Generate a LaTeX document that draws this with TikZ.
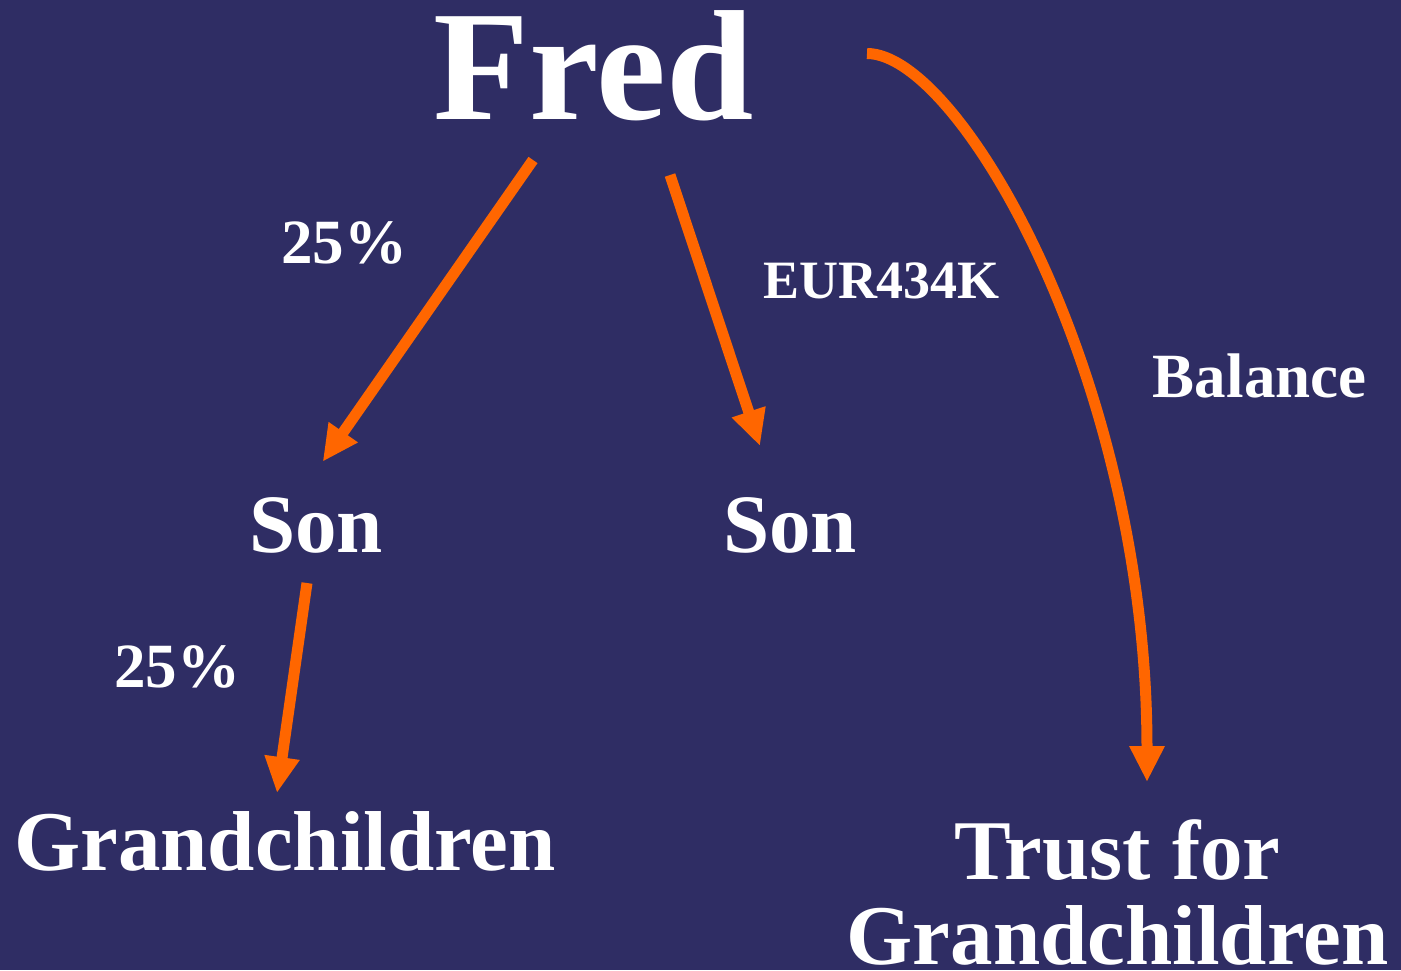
\documentclass[tikz,border=0pt]{standalone}
\usepackage{fontspec}
\setmainfont{Liberation Serif}
\usetikzlibrary{arrows.meta}
\definecolor{bg}{RGB}{47,45,100}
\definecolor{arr}{RGB}{255,102,0}
\newcommand{\fsz}[1]{\bfseries\fontsize{#1}{1.07\dimexpr #1pt\relax}\selectfont}
\begin{document}
\begin{tikzpicture}[x=1pt,y=-1pt,
  lbl/.style={text=white, inner sep=0pt, anchor=base},
  flow/.style={draw=arr, line width=11pt, -{Triangle[length=36pt,width=33pt]}}]
\fill[bg] (0,0) rectangle (1401,970);
\useasboundingbox (0,0) rectangle (1401,970);

% nodes
\node[lbl, font=\fsz{157}] (fred) at (593.5,119) {Fred};
\node[lbl, font=\fsz{83}] (son1) at (316,552) {Son};
\node[lbl, font=\fsz{83}] (son2) at (790,552) {Son};
\node[lbl, font=\fsz{85}] (gc) at (285,870) {Grandchildren};
\node[lbl, font=\fsz{85}, align=center] (trust) at (1117.5,964) {Trust for\\[-0.07em]Grandchildren};

% labels
\node[lbl, font=\fsz{63}] (p1) at (344,263) {25\%};
\node[lbl, font=\fsz{63}] (p2) at (177,687) {25\%};
\node[lbl, font=\fsz{54}] (eur) at (881.5,298) {EUR434K};
\node[lbl, font=\fsz{63}] (bal) at (1259.7,397) {Balance};

% connector ends
\coordinate (a1s) at (533,160);
\coordinate (a1e) at (322.7,461.7);
\coordinate (a2s) at (670,175);
\coordinate (a2e) at (760,446);
\coordinate (a3s) at (307,583);
\coordinate (a3e) at (277,793);
\coordinate (a4s) at (867,53.5);
\coordinate (a4e) at (1147,782);

\draw[flow] (a1s) -- (a1e);
\draw[flow] (a2s) -- (a2e);
\draw[flow] (a3s) -- (a3e);
\draw[flow] (a4s) .. controls (960,53.5) and (1147,380) .. (a4e);
\end{tikzpicture}
\end{document}
